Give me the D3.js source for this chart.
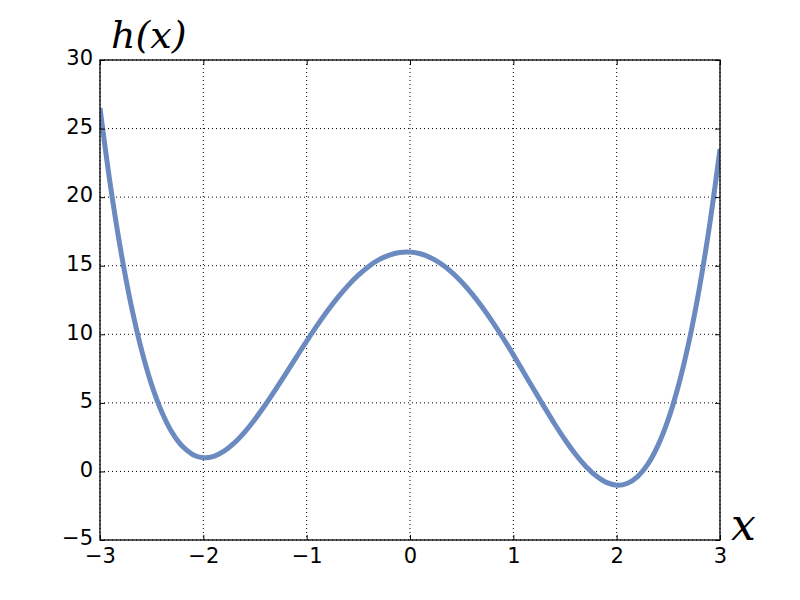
<!DOCTYPE html>
<html><head><meta charset="utf-8">
<script src="https://cdn.jsdelivr.net/npm/d3@7"></script>
<style>body{margin:0;background:#fff}svg{display:block}</style>
</head><body>
<svg id="c" width="800" height="600"></svg>
<script>
const xValues = [-3.0,-2.9,-2.8,-2.7,-2.6,-2.5,-2.4,-2.3,-2.2,-2.1,-2.0,-1.9,-1.8,-1.7,-1.6,-1.5,-1.4,-1.3,-1.2,-1.1,-1.0,-0.9,-0.8,-0.7,-0.6,-0.5,-0.4,-0.3,-0.2,-0.1,0.0,0.1,0.2,0.3,0.4,0.5,0.6,0.7,0.8,0.9,1.0,1.1,1.2,1.3,1.4,1.5,1.6,1.7,1.8,1.9,2.0,2.1,2.2,2.3,2.4,2.5,2.6,2.7,2.8,2.9,3.0];
const hValues = [26.5,20.90,16.15,12.17,8.92,6.31,4.30,2.81,1.81,1.22,1.00,1.10,1.48,2.08,2.87,3.81,4.86,5.99,7.15,8.33,9.50,10.63,11.69,12.67,13.55,14.31,14.95,15.44,15.78,15.97,16.00,15.87,15.58,15.14,14.55,13.81,12.95,11.97,10.89,9.73,8.50,7.23,5.95,4.69,3.46,2.31,1.27,0.38,-0.32,-0.80,-1.00,-0.88,-0.39,0.51,1.90,3.81,6.32,9.47,13.35,18.00,23.5];
const xTicks = [-3,-2,-1,0,1,2,3];
const yTicks = [-5,0,5,10,15,20,25,30];
const xLabel = "x";
const yLabel = "h(x)";

const svg = d3.select("#c");
const L=100,R=720,T=60,B=540;
const x = d3.scaleLinear().domain([-3,3]).range([L,R]);
const y = d3.scaleLinear().domain([-5,30]).range([B,T]);
const fmt = d => d<0 ? "\u2212"+Math.abs(d) : String(d);

const g = svg.append("g");
g.selectAll("line.gx").data(xTicks).join("line")
  .attr("x1",d=>x(d)).attr("x2",d=>x(d)).attr("y1",T).attr("y2",B)
  .attr("stroke","#000").attr("stroke-width",1).attr("stroke-dasharray","1,3");
g.selectAll("line.gy").data(yTicks).join("line")
  .attr("y1",d=>y(d)).attr("y2",d=>y(d)).attr("x1",L).attr("x2",R)
  .attr("stroke","#000").attr("stroke-width",1).attr("stroke-dasharray","1,3");

svg.append("defs").append("clipPath").attr("id","clip").append("rect")
  .attr("x",L).attr("y",T).attr("width",R-L).attr("height",B-T);

const pts = xValues.map((v,i)=>[v,hValues[i]]);
svg.append("path").datum(pts).attr("clip-path","url(#clip)")
  .attr("d",d3.line().x(d=>x(d[0])).y(d=>y(d[1])).curve(d3.curveCatmullRom.alpha(0.5)))
  .attr("fill","none").attr("stroke","#6b8bc0").attr("stroke-width",5).attr("stroke-linejoin","round");

const ax = (gen, tr) => svg.append("g").attr("transform",tr).call(gen);
const style = s => { s.select(".domain").remove(); s.attr("font-size",null).attr("font-family",null);
  s.selectAll("line").attr("stroke","#000");
  s.selectAll("text").style("font-family","'DejaVu Sans', sans-serif").style("font-size","21px").attr("fill","#000"); };
ax(d3.axisBottom(x).tickValues(xTicks).tickFormat(fmt).tickSizeInner(-5).tickPadding(8), `translate(0,${B})`).call(style);
ax(d3.axisTop(x).tickValues(xTicks).tickFormat("").tickSizeInner(-5), `translate(0,${T})`).call(style);
const yAx = ax(d3.axisLeft(y).tickValues(yTicks).tickFormat(fmt).tickSizeInner(-5).tickPadding(7), `translate(${L},0)`).call(style);
yAx.selectAll("text").attr("y",-2);
ax(d3.axisRight(y).tickValues(yTicks).tickFormat("").tickSizeInner(-5), `translate(${R},0)`).call(style);

svg.append("rect").attr("x",L).attr("y",T).attr("width",R-L).attr("height",B-T)
  .attr("fill","none").attr("stroke","#000").attr("stroke-width",1.3);

svg.append("text").attr("x",111).attr("y",48).style("font-family","'DejaVu Serif', serif").style("font-style","italic")
  .style("font-size","38px").attr("fill","#000").text(yLabel);
svg.append("text").attr("x",731).attr("y",540).style("font-family","'DejaVu Serif', serif").style("font-style","italic")
  .style("font-size","44px").attr("fill","#000").text(xLabel);
</script>
</body></html>
